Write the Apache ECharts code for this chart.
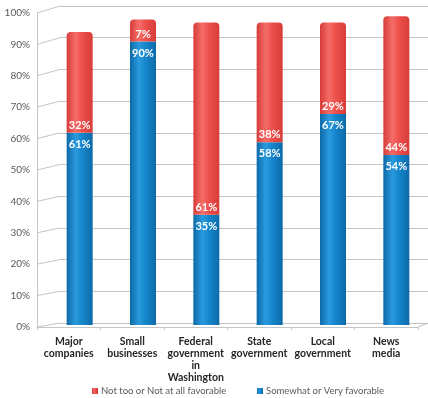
<!DOCTYPE html>
<html>
<head>
<meta charset="utf-8">
<script src="https://cdn.jsdelivr.net/npm/echarts@6/dist/echarts.min.js"></script>
<style>
  html, body { margin: 0; padding: 0; background: #fff; }
  #chart { width: 428px; height: 398px; }
</style>
</head>
<body>
<div id="chart"></div>
<script>
const categories = ['Major\ncompanies', 'Small\nbusinesses', 'Federal\ngovernment\nin\nWashington', 'State\ngovernment', 'Local\ngovernment', 'News\nmedia'];
const favorable = [61, 90, 35, 58, 67, 54];
const unfavorable = [32, 7, 61, 38, 29, 44];
const yTicks = [0, 10, 20, 30, 40, 50, 60, 70, 80, 90, 100];

const font = 'Lato, "Open Sans", sans-serif';
const gridGray = '#c4c4c4';

// cylinder-ish shading
const cyl = (edge, mid, light) => new echarts.graphic.LinearGradient(0, 0, 1, 0, [
    { offset: 0, color: edge },
    { offset: 0.35, color: light },
    { offset: 0.6, color: mid },
    { offset: 1, color: edge }
]);
const blueFill = cyl('#0d6aa8', '#1586cc', '#2a9ade');
const redFill = cyl('#d63d39', '#ee4f4b', '#f56d68');

const legendText = { fontFamily: font, fontSize: 9.5, color: '#595959', padding: [0, 0, 0, -2] };

const chart = echarts.init(document.getElementById('chart'));

const option = {
    animation: false,
    grid: [
        { left: 60, right: 0, top: 6, bottom: 75 },   // back wall
        { left: 37, right: 10, top: 13, bottom: 71 }, // front axes
        { left: 48, right: 0, top: 10, bottom: 73 }   // bars
    ],
    legend: [
        {
            data: ['Not too or Not at all favorable'],
            left: 87, top: 381, icon: 'rect', itemWidth: 6, itemHeight: 6,
            textStyle: legendText
        },
        {
            data: ['Somewhat or Very favorable'],
            left: 252, top: 381, icon: 'rect', itemWidth: 6, itemHeight: 6,
            textStyle: legendText
        }
    ],
    xAxis: [
        { gridIndex: 0, type: 'category', data: categories, show: false },
        {
            gridIndex: 1, type: 'category', data: categories,
            axisLine: { lineStyle: { color: gridGray } },
            axisTick: { show: true, length: 3, lineStyle: { color: gridGray } },
            axisLabel: {
                interval: 0, margin: 9, lineHeight: 12,
                fontFamily: font, fontSize: 10.5, fontWeight: 'bold', color: '#262626'
            }
        },
        { gridIndex: 2, type: 'category', data: categories, show: false }
    ],
    yAxis: [
        {
            gridIndex: 0, type: 'value', min: 0, max: 100, interval: 10,
            axisLabel: { show: false }, axisLine: { show: false }, axisTick: { show: false },
            splitLine: { lineStyle: { color: gridGray } }
        },
        {
            gridIndex: 1, type: 'value', min: 0, max: 100, interval: 10,
            axisLine: { show: true, lineStyle: { color: gridGray } },
            axisTick: { show: false },
            splitLine: { show: false },
            axisLabel: { formatter: '{value}%', margin: 7, fontFamily: font, fontSize: 10, color: '#595959' }
        },
        { gridIndex: 2, type: 'value', min: 0, max: 100, show: false }
    ],
    series: [
        {
            name: 'Somewhat or Very favorable', type: 'bar', stack: 'total',
            xAxisIndex: 2, yAxisIndex: 2, barWidth: 26,
            data: favorable,
            itemStyle: { color: blueFill },
            label: {
                show: true, position: 'insideTop', distance: 6, formatter: '{c}%',
                fontFamily: font, fontSize: 11, fontWeight: 'bold', color: '#fff'
            }
        },
        {
            name: 'Not too or Not at all favorable', type: 'bar', stack: 'total',
            xAxisIndex: 2, yAxisIndex: 2, barWidth: 26,
            data: unfavorable,
            itemStyle: { color: redFill, borderRadius: [4, 4, 0, 0] },
            label: {
                show: true, position: 'insideBottom', distance: 2, formatter: '{c}%',
                fontFamily: font, fontSize: 11, fontWeight: 'bold', color: '#fff'
            }
        }
    ]
};
chart.setOption(option);

// perspective side wall lines from the front axis to the back wall
const diag = yTicks.map(v => {
    const yf = chart.convertToPixel({ yAxisIndex: 1 }, v);
    const yb = chart.convertToPixel({ yAxisIndex: 0 }, v);
    return {
        type: 'line', silent: true,
        shape: { x1: 37, y1: yf, x2: 60, y2: yb },
        style: { stroke: gridGray, lineWidth: 1 }
    };
});
const yf0 = chart.convertToPixel({ yAxisIndex: 1 }, 0);
const yb0 = chart.convertToPixel({ yAxisIndex: 0 }, 0);
diag.push({
    type: 'line', silent: true,
    shape: { x1: 418, y1: yf0, x2: 428, y2: yb0 },
    style: { stroke: gridGray, lineWidth: 1 }
});
chart.setOption({ graphic: diag });
</script>
</body>
</html>
